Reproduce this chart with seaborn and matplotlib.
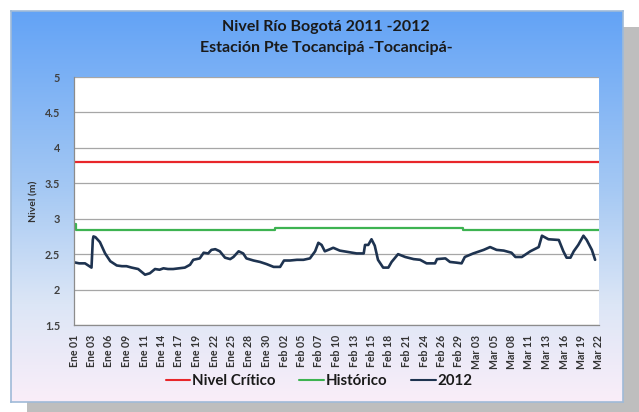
import numpy as np
import pandas as pd
import matplotlib
matplotlib.use("Agg")
import matplotlib.pyplot as plt
from matplotlib.colors import LinearSegmentedColormap
from matplotlib.lines import Line2D
import seaborn as sns

# ---------------- data ----------------
title_lines = ["Nivel Río Bogotá 2011 -2012", "Estación Pte Tocancipá -Tocancipá-"]
y_label = "Nivel (m)"
tick_labels = ["Ene 01", "Ene 03", "Ene 06", "Ene 09", "Ene 11", "Ene 14", "Ene 17", "Ene 19",
               "Ene 22", "Ene 25", "Ene 28", "Ene 30", "Feb 02", "Feb 05", "Feb 07", "Feb 10",
               "Feb 13", "Feb 15", "Feb 18", "Feb 21", "Feb 24", "Feb 26", "Feb 29", "Mar 03",
               "Mar 05", "Mar 08", "Mar 11", "Mar 13", "Mar 16", "Mar 19", "Mar 22"]
total_days = 81

critico_days = [0, 81]
critico_vals = [3.8, 3.8]

historico_days = [0, 0.3, 31, 60, 81]
historico_vals = [2.93, 2.84, 2.87, 2.84, 2.84]

n2012_days = [0, 0.8, 1.7, 2.2, 2.7, 2.9, 3.0, 3.3, 4.0, 4.8, 5.6, 6.6, 7.4, 8.1, 8.9, 9.9,
              10.96, 11.7, 12.5, 13.2, 13.8, 14.5, 15.3, 16.2, 17.1, 17.9, 18.4, 19.4, 20.0,
              20.7, 21.2, 21.8, 22.5, 23.3, 24.1, 24.6, 25.4, 26.1, 26.6, 27.7, 28.7, 29.7,
              30.8, 31.8, 32.4, 33.3, 34.4, 35.4, 36.4, 37.2, 37.7, 38.2, 38.7, 39.5, 40.0,
              41.0, 42.3, 43.6, 44.7, 44.9, 45.4, 45.9, 46.4, 46.9, 47.7, 48.5, 49.0, 50.0,
              51.1, 52.4, 53.4, 54.4, 55.7, 56.0, 57.3, 58.0, 59.0, 59.8, 60.3, 61.6, 63.2,
              64.2, 65.2, 66.3, 67.5, 68.1, 69.1, 70.4, 71.7, 72.2, 73.2, 74.8, 75.5, 76.0,
              76.6, 77.1, 77.8, 78.6, 79.1, 79.9, 80.4]
n2012_vals = [2.385, 2.37, 2.37, 2.34, 2.31, 2.70, 2.75, 2.74, 2.67, 2.51, 2.40, 2.34, 2.33,
              2.33, 2.31, 2.29, 2.21, 2.23, 2.29, 2.28, 2.30, 2.29, 2.29, 2.30, 2.31, 2.35,
              2.42, 2.44, 2.52, 2.51, 2.56, 2.57, 2.54, 2.45, 2.43, 2.46, 2.54, 2.51, 2.44,
              2.41, 2.39, 2.36, 2.32, 2.32, 2.41, 2.41, 2.42, 2.42, 2.44, 2.54, 2.66, 2.63,
              2.54, 2.57, 2.59, 2.55, 2.53, 2.51, 2.51, 2.63, 2.63, 2.71, 2.62, 2.42, 2.31,
              2.31, 2.39, 2.50, 2.46, 2.43, 2.42, 2.37, 2.37, 2.43, 2.44, 2.39, 2.38, 2.37,
              2.46, 2.51, 2.56, 2.60, 2.56, 2.55, 2.52, 2.46, 2.46, 2.54, 2.60, 2.76, 2.71,
              2.70, 2.54, 2.45, 2.45, 2.54, 2.63, 2.76, 2.70, 2.56, 2.42]

series_names = ["Nivel Crítico", "Histórico", "2012"]
series_colors = ["#E8262A", "#3DB351", "#1E3350"]

# ---------------- figure ----------------
sns.set_theme(style="white")
plt.rcParams['font.family'] = ['Lato', 'DejaVu Sans']

W, H = 639, 412
fig = plt.figure(figsize=(W / 100, H / 100), dpi=100)
fig.patch.set_facecolor("white")

def fx(px):
    return px / W

def fy(py):
    return 1 - py / H

# shadow
sh = fig.add_axes([fx(27), 0, 1 - fx(27), fy(27)], zorder=-2)
sh.set_facecolor("#BEBEBE")
sh.set_xticks([])
sh.set_yticks([])
for s in sh.spines.values():
    s.set_visible(False)

# card with gradient
card = [fx(11), fy(402), fx(623) - fx(11), fy(11) - fy(402)]
bg = fig.add_axes(card, zorder=-1)
cmap = LinearSegmentedColormap.from_list("card", [(0, "#63A3F6"), (0.45, "#A4C8F3"),
                                                  (0.75, "#DCE6F6"), (1, "#FAEEF9")])
grad = np.linspace(0, 1, 256).reshape(-1, 1)
bg.imshow(grad, aspect="auto", cmap=cmap, extent=[0, 1, 1, 0])
bg.set_xlim(0, 1)
bg.set_ylim(1, 0)
bg.set_xticks([])
bg.set_yticks([])
for s in bg.spines.values():
    s.set_color("#9FBAD8")
    s.set_linewidth(1.2)

# plot area
ax = fig.add_axes([fx(74), fy(325), fx(599) - fx(74), fy(77) - fy(325)], zorder=2)
ax.set_facecolor("white")

df_crit = pd.DataFrame({"dia": critico_days, "nivel": critico_vals})
df_hist = pd.DataFrame({"dia": historico_days, "nivel": historico_vals})
df_2012 = pd.DataFrame({"dia": n2012_days, "nivel": n2012_vals})

sns.lineplot(data=df_crit, x="dia", y="nivel", ax=ax, color=series_colors[0], lw=1.6,
             estimator=None, sort=False)
sns.lineplot(data=df_hist, x="dia", y="nivel", ax=ax, color=series_colors[1], lw=1.6,
             estimator=None, sort=False, drawstyle="steps-post")
sns.lineplot(data=df_2012, x="dia", y="nivel", ax=ax, color=series_colors[2], lw=1.9,
             estimator=None, sort=False)

ax.set_xlim(0, total_days)
ax.set_ylim(1.5, 5)
ax.set_yticks(np.arange(1.5, 5.01, 0.5))
ax.set_yticklabels(["1.5", "2", "2.5", "3", "3.5", "4", "4.5", "5"])
ax.yaxis.grid(True, color="#A6A6A6", lw=0.9)
ax.xaxis.grid(False)
ax.set_axisbelow(True)

tick_pos = np.linspace(0, total_days, len(tick_labels))
ax.set_xticks(tick_pos)
ax.set_xticklabels(tick_labels, rotation=90, fontsize=7.6, fontweight="bold", color="#333333")
ax.tick_params(axis="x", direction="out", length=4, width=0.8, color="#8C8C8C", pad=3)
ax.tick_params(axis="y", direction="out", length=4, width=0.8, color="#8C8C8C", pad=6,
               labelsize=7.8, labelcolor="#404040")
for lab in ax.get_yticklabels():
    lab.set_fontweight("bold")

for side in ["top", "right"]:
    ax.spines[side].set_visible(False)
for side in ["left", "bottom"]:
    ax.spines[side].set_color("#8C8C8C")
    ax.spines[side].set_linewidth(0.9)

ax.set_xlabel("")
ax.set_ylabel(y_label, fontsize=7.5, fontweight="bold", color="#333333")
ax.yaxis.set_label_coords((38 - 74) / (599 - 74), 0.5)

fig.text(fx(326), fy(27), title_lines[0], ha="center", va="center", fontsize=11.5,
         fontweight="bold", color="#1A1A1A")
fig.text(fx(326), fy(48), title_lines[1], ha="center", va="center", fontsize=11.5,
         fontweight="bold", color="#1A1A1A")

handles = [Line2D([0], [0], color=c, lw=1.5) for c in series_colors]
leg = fig.legend(handles, series_names, loc="center", bbox_to_anchor=(fx(319), fy(381)),
                 ncol=3, frameon=False, handlelength=1.65, handletextpad=0.1,
                 columnspacing=1.6, borderpad=0, borderaxespad=0,
                 prop={"size": 10.8, "weight": "bold"})
for t in leg.get_texts():
    t.set_color("#1A1A1A")

fig.savefig("out.png", dpi=100, facecolor=fig.get_facecolor())
